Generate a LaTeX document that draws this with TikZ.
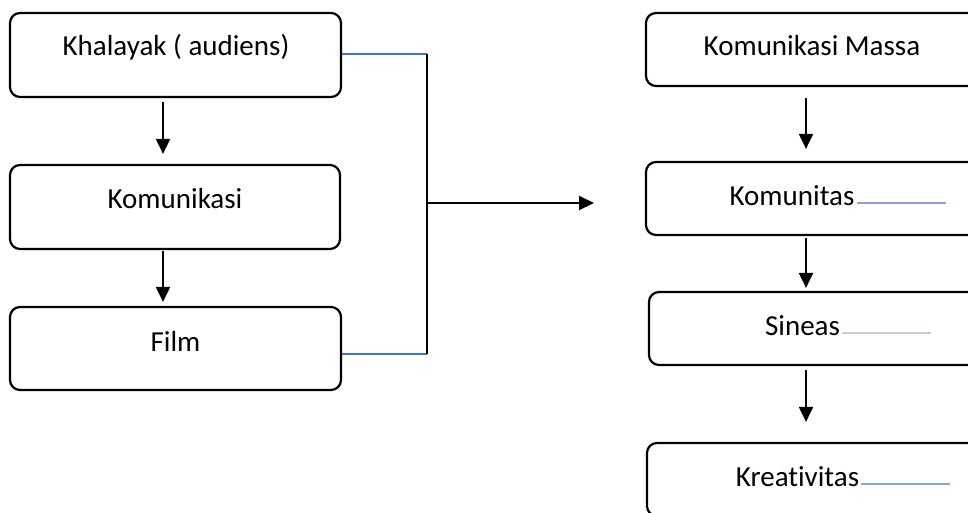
\documentclass[tikz,border=0pt]{standalone}
\usepackage{fontspec}
\setmainfont[Ligatures={NoCommon}]{Carlito}
\usetikzlibrary{arrows.meta}
\definecolor{linkblue}{RGB}{68,114,196}
\definecolor{ulA}{RGB}{143,163,203}
\definecolor{ulB}{RGB}{196,204,220}
\tikzset{
  box/.style={draw=black, line width=2.2pt, rounded corners=10pt, inner sep=0pt, fill=white},
  lbl/.style={anchor=base, inner sep=0pt, font=\fontsize{29}{33}\selectfont},
  arr/.style={line width=2pt, -{Triangle[width=14pt,length=15pt]}},
  bline/.style={draw=linkblue, line width=1.2pt},
  kline/.style={draw=black, line width=1.3pt},
}
\begin{document}
\begin{tikzpicture}[x=1pt,y=-1pt]
\clip (0,0) rectangle (968,512);
\fill[white] (0,0) rectangle (968,512);
% left column
\node[box, minimum width=331pt, minimum height=84pt] (b1) at (175.5,55) {};
\node[box, minimum width=330pt, minimum height=84pt] (b2) at (175,207) {};
\node[box, minimum width=331pt, minimum height=83pt] (b3) at (175.5,348.5) {};
\node[lbl] (t1) at (176,55) {Khalayak ( audiens)};
\node[lbl] (t2) at (175,208) {Komunikasi};
\node[lbl] (t3) at (175.5,351) {Film};
\coordinate (lx) at (163,0);
\draw[arr] ([yshift=-4pt]b1.south -| lx) -- ([yshift=10pt]b2.north -| lx);
\draw[arr] ([yshift=-1pt]b2.south -| lx) -- ([yshift=4pt]b3.north -| lx);
% bracket
\coordinate (bt) at (427,54);
\coordinate (bb) at (427,354);
\coordinate (bm) at (427,203);
\coordinate (ae) at (594,203);
\draw[bline] ([yshift=1pt]b1.east) -- (bt);
\draw[bline] ([yshift=-5.5pt]b3.east) -- (bb);
\draw[kline] (bt) -- (bb);
\draw[arr] (bm) -- (ae);
% right column
\node[box, minimum width=332pt, minimum height=73pt] (r1) at (812,49.5) {};
\node[box, minimum width=332pt, minimum height=73pt] (r2) at (812,198.5) {};
\node[box, minimum width=329pt, minimum height=73pt] (r3) at (813.5,328.5) {};
\node[box, minimum width=331pt, minimum height=73pt] (r4) at (812.5,479.5) {};
\node[lbl] (u1) at (812,55) {Komunikasi Massa};
\node[lbl] (u2) at (792,205) {Komunitas};
\node[lbl] (u3) at (802.5,335) {Sineas};
\node[lbl] (u4) at (797.5,486) {Kreativitas};
\coordinate (e2) at (946,203);
\coordinate (e3) at (931,333);
\coordinate (e4) at (950,484);
\draw[draw=ulA, line width=1.3pt] ([xshift=2pt,yshift=2pt]u2.base east) -- (e2);
\draw[draw=ulB, line width=1.3pt] ([xshift=2pt,yshift=2pt]u3.base east) -- (e3);
\draw[draw=ulA, line width=1.3pt] ([xshift=2pt,yshift=2pt]u4.base east) -- (e4);
\coordinate (rx) at (806,0);
\draw[arr] ([yshift=-11pt]r1.south -| rx) -- ([yshift=12pt]r2.north -| rx);
\draw[arr] ([yshift=-2pt]r2.south -| rx) -- ([yshift=3pt]r3.north -| rx);
\draw[arr] ([yshift=-4pt]r3.south -| rx) -- ([yshift=20pt]r4.north -| rx);
\end{tikzpicture}
\end{document}
